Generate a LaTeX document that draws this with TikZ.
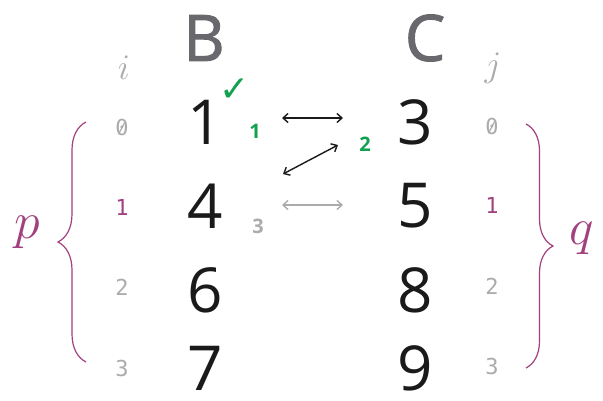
\documentclass[tikz,border=0pt]{standalone}
\usepackage{fix-cm}
\usepackage{fontspec}
\setsansfont{Open Sans}
\setmonofont{DejaVu Sans Mono}
\newfontfamily\symfont{DejaVu Sans}
\newfontfamily\headfont[FakeBold=1.6]{Open Sans}
\usetikzlibrary{arrows.meta,decorations.pathreplacing}
\definecolor{Plum}{HTML}{A2417F}
\definecolor{Leaf}{HTML}{13A04F}
\definecolor{Ash}{HTML}{ABABAB}
\definecolor{Slate}{HTML}{69696D}
\definecolor{Ink}{HTML}{1A1A1A}
\newcommand\slzero{\setbox0\hbox{0}\rlap{0}\hbox to \wd0{\hss\raisebox{.12ex}{\scalebox{.72}[.66]{/}}\hss}}

\begin{document}
\begin{tikzpicture}[x=1pt,y=-1pt,>={Straight Barb[length=5pt,width=9pt]},
    val/.style={font=\sffamily\fontsize{62}{62}\selectfont,text=Ink,inner sep=0pt},
    head/.style={font=\headfont\fontsize{64}{64}\selectfont,text=Slate,inner sep=0pt},
    idx/.style={font=\ttfamily\fontsize{22}{22}\selectfont,text=Ash,inner sep=0pt},
    tally/.style={font=\sffamily\bfseries\fontsize{20}{20}\selectfont,inner sep=0pt}]
  \useasboundingbox (0,0) rectangle (603,400);
  % headings
  \node[head] (hb) at (204,38) {B};
  \node[head] (hc) at (425,38) {C};
  \node[text=Ash,font=\fontsize{36}{36}\selectfont,inner sep=0pt] (ii) at (124,68) {$i$};
  \node[text=Ash,font=\fontsize{36}{36}\selectfont,inner sep=0pt] (jj) at (493,68) {$j$};
  % columns
  \node[val] (b0) at (205,122) {1};
  \node[val] (b1) at (205,206) {4};
  \node[val] (b2) at (205,290) {6};
  \node[val] (b3) at (205,368) {7};
  \node[val] (c0) at (415,122) {3};
  \node[val] (c1) at (415,206) {5};
  \node[val] (c2) at (415,290) {8};
  \node[val] (c3) at (415,368) {9};
  % indices
  \node[idx] (i0) at (122,127) {\slzero};
  \node[idx,text=Plum] (i1) at (122,207) {1};
  \node[idx] (i2) at (122,287) {2};
  \node[idx] (i3) at (122,368) {3};
  \node[idx] (j0) at (492,126) {\slzero};
  \node[idx,text=Plum] (j1) at (492,205) {1};
  \node[idx] (j2) at (492,286) {2};
  \node[idx] (j3) at (492,366) {3};
  % comparisons
  \node[text=Leaf,font=\symfont\bfseries\fontsize{36}{36}\selectfont,inner sep=0pt] (ok) at (235,90) {✓};
  \node[tally,text=Leaf] (s1) at (255,131) {1};
  \node[tally,text=Leaf] (s2) at (365,144) {2};
  \node[tally,text=Ash] (s3) at (258,226) {3};
  \coordinate (a1l) at (282,118); \coordinate (a1r) at (343,118);
  \coordinate (a2l) at (283,174); \coordinate (a2r) at (338,145);
  \coordinate (a3l) at (282,205); \coordinate (a3r) at (343,205);
  \draw[Ink,line width=1.4pt,<->] (a1l)--(a1r);
  \draw[Ink,line width=1.4pt,<->] (a2l)--(a2r);
  \draw[Ash,line width=1.4pt,<->] (a3l)--(a3r);
  % braces
  \coordinate (lb) at (86,362); \coordinate (lt) at (86,122);
  \coordinate (rt) at (526,124); \coordinate (rb) at (526,368);
  \draw[Plum,line width=1.2pt,decorate,decoration={brace,amplitude=28pt}] (lb)--(lt);
  \draw[Plum,line width=1.2pt,decorate,decoration={brace,amplitude=27pt}] (rt)--(rb);
  \node[text=Plum,font=\fontsize{52}{52}\selectfont,inner sep=0pt] (pp) at (27,232) {$p$};
  \node[text=Plum,font=\fontsize{52}{52}\selectfont,inner sep=0pt] (qq) at (582,238) {$q$};
\end{tikzpicture}
\end{document}
